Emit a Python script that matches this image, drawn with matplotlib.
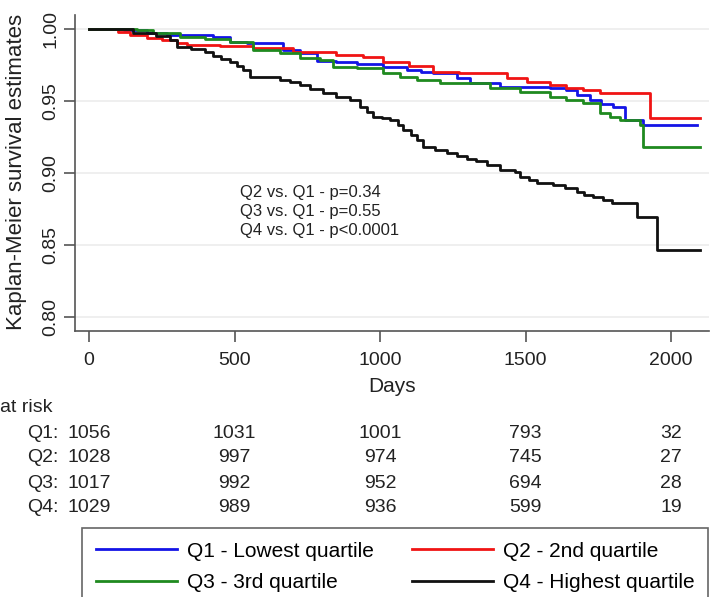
import matplotlib
matplotlib.use('Agg')
import matplotlib.pyplot as plt
from matplotlib import transforms

plt.rcParams['font.family'] = ['Liberation Sans', 'DejaVu Sans']

# Kaplan-Meier step points (day, survival)
q1_days = [0, 120, 165, 199, 268, 426, 484, 543, 666, 725, 783, 850, 921, 1010, 1092, 1140, 1182,
           1264, 1309, 1412, 1584, 1640, 1676, 1721, 1760, 1800, 1842, 1903, 2090]
q1_surv = [1.0, 0.9996, 0.9993, 0.997, 0.9958, 0.9944, 0.991, 0.990, 0.9854, 0.983, 0.978, 0.977,
           0.976, 0.9736, 0.9715, 0.970, 0.9694, 0.966, 0.9625, 0.960, 0.959, 0.9576, 0.954,
           0.9507, 0.948, 0.946, 0.9368, 0.9333, 0.9333]

q2_days = [0, 100, 141, 199, 250, 302, 337, 450, 563, 701, 850, 941, 1010, 1100, 1182, 1270,
           1353, 1436, 1505, 1584, 1640, 1697, 1755, 1927, 2100]
q2_surv = [1.0, 0.998, 0.9958, 0.9937, 0.992, 0.990, 0.989, 0.988, 0.9868, 0.984, 0.982, 0.9806,
           0.977, 0.974, 0.970, 0.9697, 0.9694, 0.966, 0.963, 0.961, 0.959, 0.9576, 0.9556,
           0.938, 0.938]

q3_days = [0, 165, 220, 313, 400, 484, 563, 656, 725, 794, 838, 921, 1010, 1070, 1127, 1206,
           1378, 1480, 1584, 1640, 1697, 1755, 1790, 1824, 1893, 1903, 2100]
q3_surv = [1.0, 0.9993, 0.997, 0.9944, 0.993, 0.991, 0.9854, 0.983, 0.980, 0.9785, 0.9736, 0.973,
           0.9694, 0.967, 0.9646, 0.9625, 0.959, 0.956, 0.953, 0.951, 0.9486, 0.9417, 0.939,
           0.9368, 0.9333, 0.918, 0.918]

q4_days = [0, 150, 230, 278, 302, 350, 398, 426, 455, 484, 510, 529, 553, 656, 690, 725, 760, 804,
           850, 897, 931, 955, 976, 1005, 1034, 1060, 1080, 1105, 1127, 1147, 1190, 1230, 1265,
           1299, 1330, 1367, 1412, 1463, 1481, 1510, 1539, 1594, 1635, 1676, 1700, 1731, 1765,
           1797, 1883, 1937, 1951, 2100]
q4_surv = [1.0, 0.997, 0.995, 0.992, 0.9875, 0.986, 0.984, 0.981, 0.979, 0.977, 0.974, 0.9715,
           0.967, 0.9646, 0.963, 0.961, 0.9585, 0.9556, 0.953, 0.9507, 0.946, 0.9425, 0.939,
           0.938, 0.9368, 0.9335, 0.930, 0.9265, 0.923, 0.918, 0.916, 0.914, 0.912, 0.910, 0.908,
           0.9056, 0.902, 0.901, 0.897, 0.895, 0.893, 0.892, 0.8895, 0.887, 0.885, 0.883, 0.881,
           0.879, 0.8694, 0.8694, 0.8465, 0.8465]

labels = ['Q1 - Lowest quartile', 'Q2 - 2nd quartile', 'Q3 - 3rd quartile', 'Q4 - Highest quartile']
colors = ['#1414e6', '#f01414', '#1f8a1f', '#111111']

pvalues = ['Q2 vs. Q1 - p=0.34', 'Q3 vs. Q1 - p=0.55', 'Q4 vs. Q1 - p<0.0001']

risk_times = [0, 500, 1000, 1500, 2000]
risk_groups = ['Q1:', 'Q2:', 'Q3:', 'Q4:']
risk_q1 = [1056, 1031, 1001, 793, 32]
risk_q2 = [1028, 997, 974, 745, 27]
risk_q3 = [1017, 992, 952, 694, 28]
risk_q4 = [1029, 989, 936, 599, 19]

W, H = 711, 597
fig = plt.figure(figsize=(W / 100, H / 100), dpi=100)
ax = fig.add_axes([75 / W, 1 - 331 / H, (709 - 75) / W, (331 - 15) / H])

curves = [(q1_days, q1_surv), (q2_days, q2_surv), (q3_days, q3_surv), (q4_days, q4_surv)]
handles = []
for (d, s), lab, c in zip(curves, labels, colors):
    h, = ax.step(d, s, where='post', color=c, lw=2, label=lab)
    handles.append(h)

ax.set_xlim(-48, 2130)
ax.set_ylim(0.7903, 1.0097)
ax.set_xticks(risk_times)
ax.set_yticks([0.80, 0.85, 0.90, 0.95, 1.00])
ax.set_yticklabels(['%.2f' % v for v in ax.get_yticks()])
ax.yaxis.grid(True, color='#ececec', lw=1.2)
ax.set_axisbelow(True)
for side in ['top', 'right']:
    ax.spines[side].set_visible(False)
for side in ['left', 'bottom']:
    ax.spines[side].set_color('#555555')
    ax.spines[side].set_linewidth(1.2)
ax.tick_params(axis='both', colors='#555555', labelcolor='#222222', labelsize=14,
               length=8, width=1.2)
ax.tick_params(axis='y', labelrotation=90, pad=3)
ax.tick_params(axis='x', pad=7)
for t in ax.get_yticklabels():
    t.set_va('center')

fig.text(17 / W, 1 - 172 / H, 'Kaplan-Meier survival estimates', rotation=90,
         ha='center', va='center', fontsize=16, color='#222222')
fig.text(392 / W, 1 - 387 / H, 'Days', ha='center', va='center', fontsize=15, color='#222222')

for i, txt in enumerate(pvalues):
    ax.text(519, 0.8868 - i * 0.0132, txt, ha='left', va='center', fontsize=12, color='#222222')

# number at risk table under the axis
trans = transforms.blended_transform_factory(ax.transData, fig.transFigure)
fig.text(0, 1 - 408 / H, 'at risk', ha='left', va='center', fontsize=14, color='#222222')
rows = [risk_q1, risk_q2, risk_q3, risk_q4]
for r, (grp, vals) in enumerate(zip(risk_groups, rows)):
    y = 1 - (433 + 25 * r) / H
    for t, v in zip(risk_times, vals):
        ax.text(t, y, str(v), transform=trans, ha='center', va='center', fontsize=14,
                color='#222222', clip_on=False)
    ax.annotate(grp, xy=(0, y), xycoords=trans, xytext=(-22, 0), textcoords='offset points',
                ha='right', va='center', fontsize=14, color='#222222', annotation_clip=False)

leg = fig.legend([handles[0], handles[2], handles[1], handles[3]],
                 [labels[0], labels[2], labels[1], labels[3]],
                 ncol=2, loc='upper left', bbox_to_anchor=(82 / W, 1 - 528 / H),
                 borderaxespad=0, fontsize=15, handlelength=3.9, handletextpad=0.5,
                 columnspacing=1.8, labelspacing=0.6, borderpad=0.65, fancybox=False,
                 framealpha=1, edgecolor='#666666')
leg.get_frame().set_linewidth(1.2)
for line in leg.get_lines():
    line.set_linewidth(2)

fig.savefig('out.png', dpi=100)
